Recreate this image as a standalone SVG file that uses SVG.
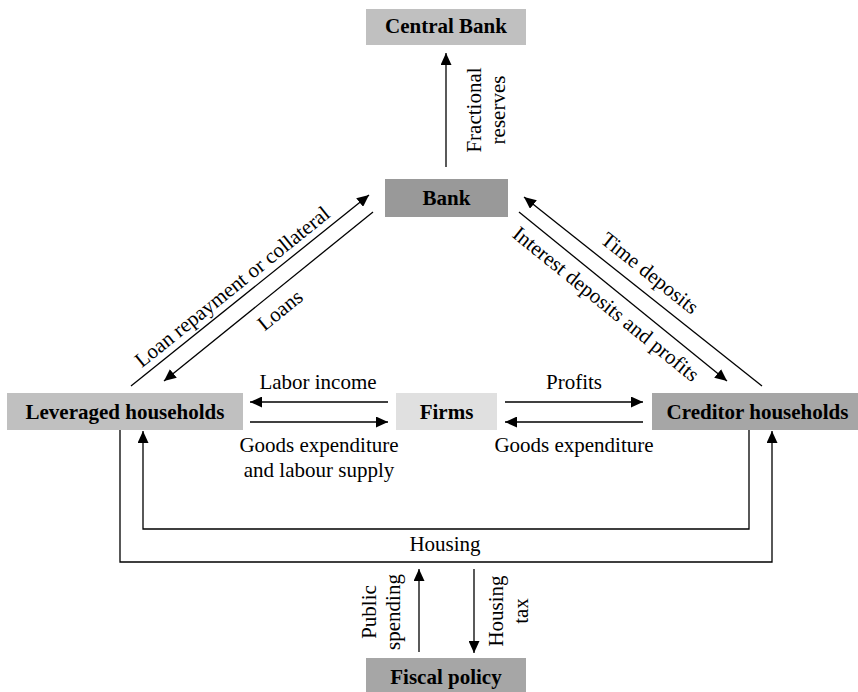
<svg xmlns="http://www.w3.org/2000/svg" width="858" height="692" viewBox="0 0 858 692" font-family="'Liberation Serif', 'Times New Roman', Times, 'DejaVu Serif', serif">
<style>
text{font-family:"Liberation Serif","Times New Roman",Times,"DejaVu Serif",serif;font-size:21px;fill:#000}
.b{font-weight:bold;text-anchor:middle}
.m{text-anchor:middle}
.c line,.c polyline{stroke:#000;stroke-width:1.3;fill:none}
</style>
<defs>
<marker id="ah" markerUnits="userSpaceOnUse" markerWidth="12" markerHeight="11" refX="12" refY="5.5" orient="auto">
<path d="M0,0 L12,5.5 L0,11 z" fill="#000"/>
</marker>
</defs>
<rect width="858" height="692" fill="#fff"/>
<g id="central-bank"><rect x="366" y="9" width="160" height="36" fill="#c0c0c0"/><text class="b" x="446" y="33">Central Bank</text></g>
<g id="bank"><rect x="385" y="179" width="123" height="38" fill="#999999"/><text class="b" x="446.5" y="205">Bank</text></g>
<g id="leveraged-households"><rect x="7" y="393" width="236" height="37" fill="#c0c0c0"/><text class="b" x="125" y="419">Leveraged households</text></g>
<g id="firms"><rect x="396" y="393" width="101" height="37" fill="#e0e0e0"/><text class="b" x="446.5" y="419">Firms</text></g>
<g id="creditor-households"><rect x="652" y="393" width="212" height="37" fill="#a6a6a6"/><text class="b" x="757.5" y="419">Creditor households</text></g>
<g id="fiscal-policy"><rect x="366" y="658" width="160" height="37" fill="#a6a6a6"/><text class="b" x="446" y="684">Fiscal policy</text></g>
<g id="connectors" class="c">
<line x1="446" y1="167" x2="446" y2="53" marker-end="url(#ah)"/>
<line x1="131" y1="386" x2="369" y2="195" marker-end="url(#ah)"/>
<line x1="373" y1="212" x2="164" y2="381" marker-end="url(#ah)"/>
<line x1="762" y1="386" x2="524" y2="197" marker-end="url(#ah)"/>
<line x1="519" y1="212" x2="727" y2="381" marker-end="url(#ah)"/>
<line x1="388" y1="402" x2="250" y2="402" marker-end="url(#ah)"/>
<line x1="250" y1="422" x2="388" y2="422" marker-end="url(#ah)"/>
<line x1="505" y1="402" x2="643" y2="402" marker-end="url(#ah)"/>
<line x1="643" y1="422" x2="505" y2="422" marker-end="url(#ah)"/>
<polyline points="749,430 749,529 143,529 143,431" marker-end="url(#ah)"/>
<polyline points="120,430 120,562 772,562 772,431" marker-end="url(#ah)"/>
<line x1="419" y1="652" x2="419" y2="569" marker-end="url(#ah)"/>
<line x1="474" y1="569" x2="474" y2="653" marker-end="url(#ah)"/>
</g>
<g id="labels">
<text class="m" transform="translate(481,110) rotate(-90)">Fractional</text>
<text class="m" transform="translate(505,110) rotate(-90)">reserves</text>
<text class="m" transform="translate(236.6,292.2) rotate(-38.75)">Loan repayment or collateral</text>
<text class="m" transform="translate(284.4,315.5) rotate(-39)">Loans</text>
<text class="m" transform="translate(645.6,278.5) rotate(38.5)">Time deposits</text>
<text class="m" transform="translate(601.6,309.5) rotate(39)">Interest deposits and profits</text>
<text class="m" x="318" y="389">Labor income</text>
<text class="m" x="574" y="389">Profits</text>
<text class="m" x="319" y="452">Goods expenditure</text>
<text class="m" x="319" y="477">and labour supply</text>
<text class="m" x="574" y="452">Goods expenditure</text>
<text class="m" x="445" y="551">Housing</text>
<text class="m" transform="translate(376,612) rotate(-90)">Public</text>
<text class="m" transform="translate(400,612) rotate(-90)">spending</text>
<text class="m" transform="translate(503,611) rotate(-90)">Housing</text>
<text class="m" transform="translate(528,611) rotate(-90)">tax</text>
</g>
</svg>
